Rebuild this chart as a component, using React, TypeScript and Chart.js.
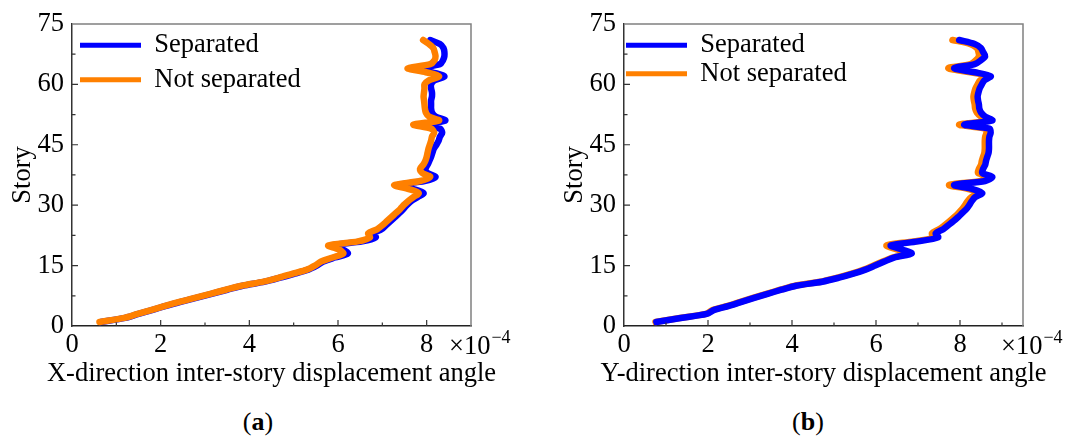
import { useEffect, useRef } from 'react'
import { Chart, registerables } from 'chart.js'

Chart.register(...registerables)

const stories = [
  1, 2, 3, 4, 5, 6, 7, 8, 9, 10, 11, 12, 13, 14, 15, 16, 17, 18, 19, 20,
  21, 22, 23, 24, 25, 26, 27, 28, 29, 30, 31, 32, 33, 34, 35, 36, 37, 38, 39, 40,
  41, 42, 43, 44, 45, 46, 47, 48, 49, 50, 51, 52, 53, 54, 55, 56, 57, 58, 59, 60,
  61, 62, 63, 64, 65, 66, 67, 68, 69, 70, 71,
]

// X-direction, x10^-4
const xSeparated = [
  0.65, 1.2, 1.5, 1.82, 2.12, 2.45, 2.8, 3.15, 3.5, 3.85, 4.35, 4.7, 5.02, 5.33, 5.52, 5.67, 5.93, 6.22, 6.1, 5.85,
  6.55, 6.85, 6.8, 6.98, 7.08, 7.18, 7.28, 7.38, 7.47, 7.55, 7.65, 7.8, 7.93, 7.7, 7.35, 7.95, 8.2, 8.02, 7.97, 8.02,
  8.06, 8.1, 8.13, 8.16, 8.22, 8.27, 8.3, 8.35, 8.3, 7.88, 8.42, 8.2, 8.12, 8.1, 8.1, 8.1, 8.12, 8.12, 8.1, 8.1,
  8.18, 8.4, 8.12, 7.85, 8.3, 8.37, 8.4, 8.4, 8.38, 8.3, 8.08,
]
const xNotSeparated = [
  0.62, 1.18, 1.48, 1.8, 2.1, 2.42, 2.77, 3.12, 3.47, 3.82, 4.32, 4.67, 4.98, 5.3, 5.48, 5.62, 5.88, 6.12, 6.02, 5.78,
  6.45, 6.72, 6.68, 6.88, 7.0, 7.1, 7.2, 7.3, 7.4, 7.48, 7.58, 7.7, 7.82, 7.6, 7.27, 7.85, 8.08, 7.9, 7.85, 7.92,
  7.97, 8.0, 8.02, 8.04, 8.07, 8.1, 8.12, 8.17, 8.1, 7.7, 8.28, 8.05, 7.98, 7.96, 7.95, 7.94, 7.93, 7.94, 7.95, 7.95,
  8.05, 8.28, 7.98, 7.57, 8.08, 8.18, 8.2, 8.18, 8.15, 8.05, 7.92,
]

// Y-direction, x10^-4
const ySeparated = [
  0.77, 1.35, 1.97, 2.15, 2.5, 2.8, 3.1, 3.42, 3.75, 4.1, 4.72, 5.12, 5.46, 5.75, 5.98, 6.2, 6.43, 6.85, 6.62, 6.35,
  7.0, 7.48, 7.42, 7.6, 7.72, 7.84, 7.95, 8.05, 8.15, 8.22, 8.28, 8.36, 8.53, 8.3, 7.86, 8.6, 8.77, 8.53, 8.55, 8.6,
  8.62, 8.65, 8.68, 8.69, 8.69, 8.69, 8.7, 8.73, 8.7, 8.1, 8.77, 8.6, 8.5, 8.46, 8.45, 8.43, 8.42, 8.44, 8.47, 8.52,
  8.58, 8.73, 8.35, 7.86, 8.35, 8.5, 8.6, 8.55, 8.5, 8.35, 7.98,
]
const yNotSeparated = [
  0.75, 1.33, 1.95, 2.12, 2.47, 2.77, 3.07, 3.39, 3.72, 4.07, 4.68, 5.08, 5.42, 5.71, 5.94, 6.16, 6.39, 6.75, 6.5, 6.25,
  6.9, 7.38, 7.33, 7.5, 7.63, 7.75, 7.86, 7.96, 8.05, 8.12, 8.18, 8.27, 8.45, 8.2, 7.74, 8.5, 8.68, 8.43, 8.45, 8.5,
  8.52, 8.55, 8.58, 8.59, 8.59, 8.59, 8.6, 8.63, 8.6, 7.98, 8.68, 8.5, 8.4, 8.36, 8.35, 8.33, 8.32, 8.34, 8.37, 8.42,
  8.48, 8.65, 8.25, 7.72, 8.25, 8.38, 8.45, 8.44, 8.4, 8.25, 7.82,
]

const xTickStep = 2
const yTickStep = 15

const FONT = '"Liberation Serif", "Times New Roman", serif'
const SIZE = 26.5
const BLUE = '#0000ff'
const ORANGE = '#ff8000'

// frame on top/right, inward major and minor ticks, x title and the x10^-4 factor
const frameTicks = {
  id: 'frameTicks',
  afterDraw(chart: Chart, _args: any, opts: any) {
    const { ctx, chartArea } = chart
    const { left, right, top, bottom } = chartArea
    const xs = chart.scales.x
    const ys = chart.scales.y
    ctx.save()
    ctx.strokeStyle = '#808080'
    ctx.lineWidth = 1.5
    ctx.beginPath()
    ctx.moveTo(left, top)
    ctx.lineTo(right, top)
    ctx.lineTo(right, bottom)
    ctx.stroke()

    ctx.strokeStyle = '#333'
    ctx.lineWidth = 1.2
    ctx.beginPath()
    for (let v = xTickStep / 2; v < xs.max; v += xTickStep / 2) {
      const px = xs.getPixelForValue(v)
      const len = v % xTickStep === 0 ? 6 : 3.5
      ctx.moveTo(px, bottom)
      ctx.lineTo(px, bottom - len)
    }
    for (let v = yTickStep / 2; v < ys.max; v += yTickStep / 2) {
      const py = ys.getPixelForValue(v)
      const len = v % yTickStep === 0 ? 6 : 3.5
      ctx.moveTo(left, py)
      ctx.lineTo(left + len, py)
    }
    ctx.stroke()

    ctx.fillStyle = '#000'
    ctx.font = `${SIZE}px ${FONT}`
    ctx.textAlign = 'center'
    ctx.textBaseline = 'middle'
    ctx.fillText(opts.title, (left + right) / 2, bottom + 48)

    ctx.textAlign = 'left'
    ctx.textBaseline = 'alphabetic'
    const mx = right - 22
    const by = bottom + 28
    ctx.fillText('×10', mx, by)
    const w = ctx.measureText('×10').width
    ctx.font = `18px ${FONT}`
    ctx.fillText('−4', mx + w + 1, by - 11)
    ctx.restore()
  },
}

interface IPanel {
  left: number
  width: number
  padLeft: number
  padRight: number
  xMax: number
  xTitle: string
  blue: number[]
  orange: number[]
  orangeOnTop: boolean
  legendPadding: number
  legendTitleHeight: number
  swatch: number
}

const Panel = (p: IPanel) => {
  const chartRef = useRef<HTMLCanvasElement | null>(null)

  useEffect(() => {
    let chartInstance: Chart | null = null
    if (chartRef.current) {
      const font = { family: FONT, size: SIZE }
      chartInstance = new Chart(chartRef.current, {
        type: 'line',
        plugins: [frameTicks],
        data: {
          datasets: [
            {
              label: 'Separated',
              data: stories.map((s, i) => ({ x: p.blue[i], y: s })),
              borderColor: BLUE,
              backgroundColor: BLUE,
              borderWidth: 6.5,
              pointRadius: 0,
              tension: 0.3,
              borderCapStyle: 'round',
              borderJoinStyle: 'round',
              order: p.orangeOnTop ? 1 : 0,
            },
            {
              label: 'Not separated',
              data: stories.map((s, i) => ({ x: p.orange[i], y: s })),
              borderColor: ORANGE,
              backgroundColor: ORANGE,
              borderWidth: 6.5,
              pointRadius: 0,
              tension: 0.3,
              borderCapStyle: 'round',
              borderJoinStyle: 'round',
              order: p.orangeOnTop ? 0 : 1,
            },
          ],
        },
        options: {
          responsive: true,
          maintainAspectRatio: false,
          animation: false,
          layout: { padding: { left: p.padLeft, top: 22, right: p.padRight, bottom: 1 } },
          plugins: {
            tooltip: { enabled: false },
            frameTicks: { title: p.xTitle },
            legend: {
              position: 'chartArea',
              align: 'start',
              fullSize: false,
              title: {
                display: p.legendTitleHeight > 0,
                text: '',
                padding: 0,
                font: { size: p.legendTitleHeight, lineHeight: 1 },
              },
              labels: {
                usePointStyle: true,
                pointStyle: 'line',
                pointStyleWidth: p.swatch,
                padding: p.legendPadding,
                color: '#000',
                font,
                sort: (a: any, b: any) => a.datasetIndex - b.datasetIndex,
                generateLabels: (chart: Chart) =>
                  Chart.defaults.plugins.legend.labels
                    .generateLabels(chart)
                    .map((l: any) => ({ ...l, lineWidth: 5 })),
              },
            },
          },
          scales: {
            x: {
              type: 'linear',
              min: 0,
              max: p.xMax,
              ticks: {
                stepSize: xTickStep,
                includeBounds: false,
                padding: 3,
                maxRotation: 0,
                color: '#000',
                font,
              },
              grid: { display: false, drawTicks: false },
              border: { display: true, color: '#222', width: 1.5 },
              title: { display: false },
              afterFit: (s: any) => {
                s.height = 68
              },
            },
            y: {
              type: 'linear',
              min: 0,
              max: 75,
              ticks: { stepSize: yTickStep, padding: 8, color: '#000', font },
              grid: { display: false, drawTicks: false },
              border: { display: true, color: '#333', width: 1.5 },
              title: {
                display: true,
                text: 'Story',
                color: '#000',
                font,
                padding: { top: 4, bottom: 0 },
              },
              afterFit: (s: any) => {
                s.width = 69
              },
            },
          },
        } as any,
      })
    }

    return () => {
      if (chartInstance) {
        chartInstance.destroy()
      }
    }
  }, [])

  return (
    <div style={{ position: 'absolute', left: p.left, top: 0, width: p.width, height: 395 }}>
      <canvas ref={chartRef} />
    </div>
  )
}

const captionStyle = (cx: number): React.CSSProperties => ({
  position: 'absolute',
  left: cx,
  top: 406,
  transform: 'translateX(-50%)',
  fontFamily: FONT,
  fontSize: 26,
  lineHeight: '32px',
  color: '#000',
  whiteSpace: 'nowrap',
})

export default function App() {
  return (
    <div style={{ position: 'absolute', left: 0, top: 0, width: 1073, height: 443, background: '#fff', overflow: 'hidden' }}>
      <Panel
        left={0}
        width={540}
        padLeft={3}
        padRight={69}
        xMax={9}
        xTitle="X-direction inter-story displacement angle"
        blue={xSeparated}
        orange={xNotSeparated}
        orangeOnTop={true}
        legendPadding={8}
        legendTitleHeight={24}
        swatch={61}
      />
      <Panel
        left={545}
        width={528}
        padLeft={10}
        padRight={50}
        xMax={9.5}
        xTitle="Y-direction inter-story displacement angle"
        blue={ySeparated}
        orange={yNotSeparated}
        orangeOnTop={false}
        legendPadding={2}
        legendTitleHeight={30}
        swatch={61}
      />
      <div style={captionStyle(258)}>
        (<b>a</b>)
      </div>
      <div style={captionStyle(808)}>
        (<b>b</b>)
      </div>
    </div>
  )
}
